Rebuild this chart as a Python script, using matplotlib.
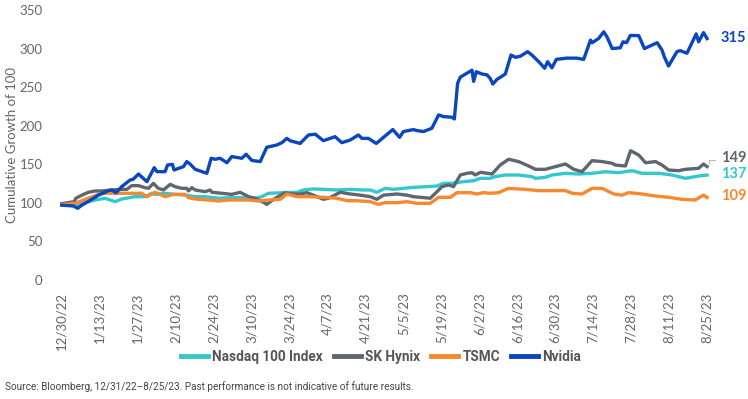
import matplotlib
matplotlib.use("Agg")
import matplotlib.pyplot as plt
from matplotlib.lines import Line2D

# Days since 12/30/22 and cumulative growth of 100
nvda_days = [0, 4.2, 5.9, 7.4, 11.1, 13.5, 17.2, 18.5, 20, 22.1, 25.2, 26.3, 28.3, 31.4, 34.1, 35.1,
             38.1, 39, 40.8, 41.4, 44.9, 46.1, 47.3, 49.2, 53.5, 55.1, 56.6, 58.4, 60.9, 62.7, 66.4,
             68, 70.1, 73.2, 75.6, 79.3, 81.2, 83, 84.2, 87.9, 91, 93.5, 96.5, 99, 100.8, 103.3,
             106.4, 109.4, 110.7, 113.1, 116, 118.7, 122.1, 124.6, 126, 129.7, 131, 133.4, 136.5,
             139, 140.8, 143.9, 144.8, 146, 147, 149.4, 151.3, 151.9, 152.9, 155, 156.8, 158, 159,
             160.5, 163.6, 165.7, 167.3, 169.1, 171.8, 173.4, 175.9, 178.1, 179.2, 180.8, 182.4,
             186.3, 190, 192.5, 195, 195.6, 198, 199.9, 201.1, 203, 206, 207, 208.3, 209.7, 212.8,
             214.9, 219.6, 221.4, 222.3, 223.8, 226.9, 228.1, 230.6, 234, 234.9, 236.7, 238]
nvda_vals = [97, 96, 93, 97, 104.6, 110, 115.8, 116.6, 113, 121, 129.6, 130.5, 137.4, 127.5, 145.6, 140.4,
             140.4, 149, 150, 142.6, 147, 153.5, 150.4, 143.5, 138.3, 157.8, 156.5, 157.8, 152, 160, 157.8,
             163, 155, 153.5, 172, 175, 178, 183.6, 180.6, 177, 188, 189, 180.6, 183.6, 185.8, 178,
             181.5, 188, 183.6, 183.6, 177, 185, 195, 185, 192.4, 195, 193.7, 192.4, 196.7,
             214, 211.8, 211, 208.7, 255, 263, 268, 272, 257.5, 270, 267, 266, 261.4, 254,
             260, 267, 291.7, 288.7, 290, 296, 291.7, 283, 274.5, 283, 275, 286,
             287.6, 287.6, 286, 311, 307.6, 313, 321.7, 315.2, 300, 301, 308.8, 307.6, 317, 316.8,
             300, 307.6, 298, 288.7, 277.4, 296, 297.3, 294, 319, 308.8, 320.7, 313]

hynix_days = [0, 4.6, 5.2, 7.4, 9.8, 12.3, 14.8, 18.5, 22.1, 24, 25.8, 28.3, 30.7, 32, 33.8, 35.6, 37.5,
              40, 41.8, 44.3, 46.1, 46.7, 48, 49.2, 52.9, 54.7, 55.4, 59, 62.7, 65.8, 68.9, 71.3,
              74.4, 75.6, 78.1, 82.4, 84.9, 87.9, 90.4, 92.8, 96.5, 98.4, 102.7, 106.4, 110.1, 113.8,
              116.2, 118.7, 123.6, 127.3, 129.7, 132.2, 135.9, 138.4, 140.2, 142.7, 144.5, 147, 149.4,
              151.3, 152.5, 154.4, 158.7, 161.7, 164.8, 168.5, 172.2, 174.7, 178.4, 182, 185.8, 188.8,
              191.9, 195.6, 199.3, 203, 204.2, 207.9, 209.8, 212.8, 215.3, 219, 221.4, 223.8, 227.5,
              230, 234.9, 236.7, 238]
hynix_vals = [99, 101.5, 106, 110, 113.7, 115.4, 115.4, 116.7, 117.5, 117.5, 122.3, 122.3, 119.7, 118.8, 125.3, 118.8, 116.7,
              124, 121, 118.8, 118.8, 115.4, 119.7, 116.7, 114.5, 116.7, 113.7, 112.4, 111, 113.7, 108, 106,
              100.7, 98, 104.6, 113.2, 111.5, 111.5, 113.2, 110, 104.6, 106, 113.7, 111.5, 110, 108,
              104.6, 110, 111.5, 110, 108, 107.2, 106, 114.5, 121, 123.2, 121, 136.1, 138.3,
              139.1, 136.1, 139.6, 137.4, 149, 156.5, 153.5, 147.8, 143.5, 143.5, 146.9, 150.4, 143.5,
              140.4, 154.7, 153.5, 151.3, 149, 147.8, 167.6, 162, 152, 153.5, 149, 142.6, 141.7,
              143.5, 144.8, 150.4, 147]

ndx_days = [0, 6.1, 8.6, 12.3, 16, 19.7, 22.1, 27, 30.7, 33.2, 34.4, 38.1, 41.8, 45.5, 49.2, 52.9, 57.8,
            61.5, 66.4, 71.3, 73.8, 76.2, 81.8, 86.7, 89.2, 92.8, 96.5, 101.5, 106.4, 111.3, 113.8,
            116.2, 119.3, 122.4, 126, 129.7, 134.7, 138.4, 140.8, 143.9, 148.2, 151.9, 154.4, 158,
            159.8, 163.6, 168.5, 173.4, 174.7, 178.4, 180.8, 185.8, 190.6, 195.6, 200.5, 205.4,
            210.3, 214, 220.2, 225.1, 230, 234.9, 238]
ndx_vals = [98, 97, 100.2, 103.7, 105.9, 101.5, 105, 108, 108, 112.4, 111, 112.4, 111, 110, 108, 108, 106,
            106.7, 106.7, 106, 108, 112.4, 113.2, 113.7, 116.7, 118, 117.5, 116.7, 117.5, 116.7, 116.7,
            113.7, 118.8, 117.5, 118.8, 120.1, 121, 121.9, 125.3, 125.3, 127.5, 128.7, 131.8, 131.8,
            134, 136.1, 136.1, 134, 131.8, 133.1, 136.1, 138.3, 137.4, 138.3, 140.4, 139.1,
            141.7, 138.3, 138.3, 136.1, 131.8, 134.8, 136]

tsmc_days = [0, 4.9, 9.8, 13.5, 16, 20.9, 29.5, 31.4, 34.4, 38.1, 41.2, 45.5, 46.7, 49.2, 54.1, 57.8,
             61.5, 68.9, 72.5, 76.2, 80.6, 83, 86.7, 91.6, 96.5, 101.5, 105.2, 108.9, 113.8, 116.8,
             119.3, 123.6, 127.3, 131, 135.9, 139, 143.3, 145.8, 150.7, 153.1, 155.6, 158, 161.1,
             164.8, 171, 175.9, 185.8, 188.3, 191.9, 195.6, 199.3, 203.6, 206.6, 209.1, 214, 218.9,
             223.8, 228.7, 233.6, 236.7, 238]
tsmc_vals = [98, 99.4, 106, 111, 112.4, 112.4, 112.4, 108, 113.7, 108, 111, 111, 106.7, 105, 103.7, 102.4,
             103.7, 103.7, 102.4, 103.7, 104.6, 111.5, 108, 108, 107.2, 106, 102.8, 102.8, 101.5, 98.1,
             100.2, 100.2, 101.5, 99.4, 99.4, 107.2, 107.2, 113.2, 113.2, 111.5, 113.2, 112.4, 113.2,
             118.8, 117.5, 115.8, 115.8, 112.4, 111.5, 118.8, 118.8, 111.5, 110, 113.2, 111.5, 108.9,
             107.2, 104.6, 103.7, 110, 107]

tick_days = list(range(0, 239, 14))
tick_labels = ["12/30/22", "1/13/23", "1/27/23", "2/10/23", "2/24/23", "3/10/23", "3/24/23",
               "4/7/23", "4/21/23", "5/5/23", "5/19/23", "6/2/23", "6/16/23", "6/30/23",
               "7/14/23", "7/28/23", "8/11/23", "8/25/23"]

end_labels = ["315", "149", "137", "109"]

c_ndx = "#33C8CE"
c_hynix = "#5E6670"
c_tsmc = "#F7882F"
c_nvda = "#0A46BF"

plt.rcParams['font.family'] = ['Lato', 'DejaVu Sans']
narrow = ['Roboto', 'DejaVu Sans']

fig = plt.figure(figsize=(7.48, 3.99), dpi=100)
ax = fig.add_axes([55 / 748, 119 / 399, 690 / 748, 270 / 399])

lw = 2.4
ax.plot(ndx_days, ndx_vals, color=c_ndx, lw=lw, label="Nasdaq 100 Index")
ax.plot(hynix_days, hynix_vals, color=c_hynix, lw=lw, label="SK Hynix")
ax.plot(tsmc_days, tsmc_vals, color=c_tsmc, lw=lw, label="TSMC")
ax.plot(nvda_days, nvda_vals, color=c_nvda, lw=lw, label="Nvidia")

ax.set_xlim(-2.5, 252)
ax.set_ylim(0, 350)
ax.set_yticks(range(0, 351, 50))
ax.set_xticks(tick_days)
ax.set_xticklabels(tick_labels, rotation=90)
ax.tick_params(axis='both', length=0, colors="#666666", labelsize=9.5)
ax.tick_params(axis='y', pad=9)
ax.tick_params(axis='x', pad=9)
for s in ax.spines.values():
    s.set_visible(False)
ax.set_ylabel("Cumulative Growth of 100", color="#666666", fontsize=9.5)
ax.yaxis.set_label_coords(-37 / 690, 0.5)

# end labels
ax.text(243, 314, end_labels[0], color=c_nvda, fontsize=10.5, fontweight='bold', va='center')
ax.text(243, 158, end_labels[1], color=c_hynix, fontsize=10.5, fontweight='bold', va='center')
ax.text(243, 137, end_labels[2], color=c_ndx, fontsize=10.5, fontweight='bold', va='center')
ax.text(243, 109, end_labels[3], color=c_tsmc, fontsize=10.5, fontweight='bold', va='center')
ax.plot([238.7, 238.7, 241], [150, 156, 156], color="#BBBBBB", lw=0.8)

handles = [Line2D([], [], color=c, lw=3.5) for c in (c_ndx, c_hynix, c_tsmc, c_nvda)]
fig.legend(handles, ["Nasdaq 100 Index", "SK Hynix", "TSMC", "Nvidia"], ncol=4,
           loc='center', bbox_to_anchor=(381 / 748, 1 - 357 / 399), frameon=False,
           handlelength=2.0, handletextpad=0.3, columnspacing=0.8,
           prop={'family': narrow, 'weight': 'bold', 'size': 9.8}, labelcolor="#555555")

fig.text(5 / 748, 1 - 387 / 399,
         "Source: Bloomberg, 12/31/22\u20138/25/23. Past performance is not indicative of future results.",
         fontsize=7.2, color="#444444", family=narrow, va='center')

fig.savefig("out.png", dpi=100)
